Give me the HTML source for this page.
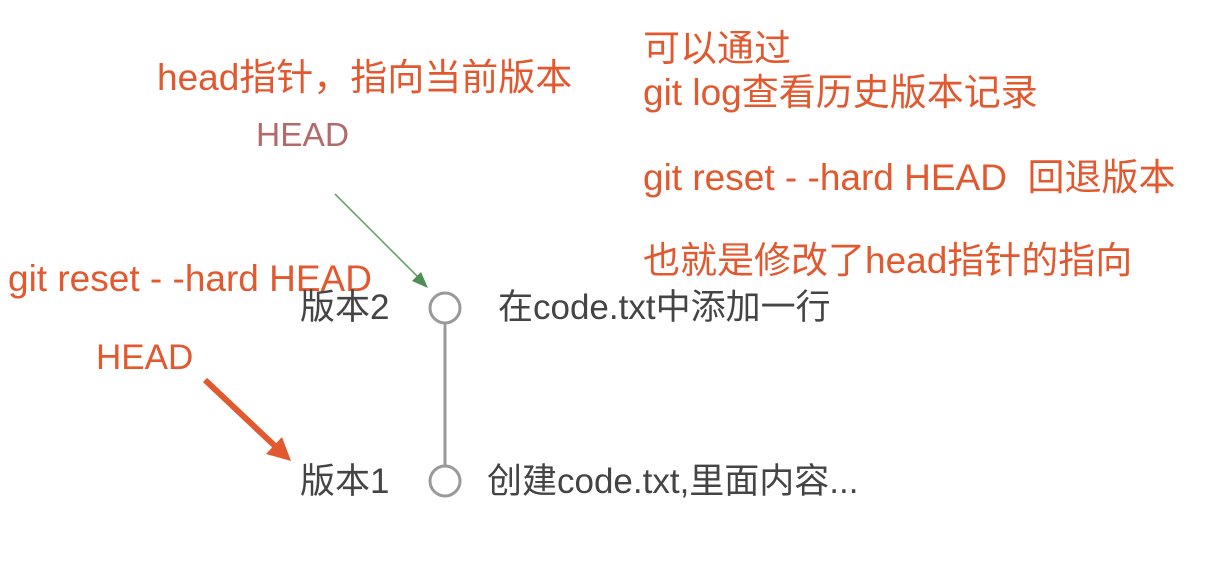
<!DOCTYPE html>
<html><head><meta charset="utf-8"><style>
body{margin:0;width:1206px;height:564px;background:#fff;position:relative;overflow:hidden;font-family:"Liberation Sans","Noto Sans CJK SC",sans-serif}
.t{position:absolute;white-space:nowrap;line-height:1}
.o{color:#e2582f;font-size:37px}
.g{color:#444;font-size:35px}
</style></head><body>
<div class="t o" style="left:157px;top:59px">head指针，指向当前版本</div>
<div class="t" style="left:256px;top:119px;font-size:33.5px;color:#b46a6a">HEAD</div>
<div class="t o" style="left:643px;top:30px">可以通过</div>
<div class="t o" style="left:643px;top:74px">git log查看历史版本记录</div>
<div class="t o" style="left:643px;top:159px">git reset - -hard HEAD&nbsp; 回退版本</div>
<div class="t o" style="left:643px;top:242px">也就是修改了head指针的指向</div>
<div class="t o" style="left:8px;top:260px">git reset - -hard HEAD</div>
<div class="t o" style="left:96px;top:340px;font-size:35px">HEAD</div>
<div class="t g" style="left:300px;top:290px">版本2</div>
<div class="t g" style="left:498px;top:290px">在code.txt中添加一行</div>
<div class="t g" style="left:300px;top:464px">版本1</div>
<div class="t g" style="left:487px;top:464px">创建code.txt,里面内容...</div>
<svg width="1206" height="564" style="position:absolute;left:0;top:0">
<line x1="445" y1="323" x2="445" y2="466" stroke="#999" stroke-width="3"/>
<circle cx="445" cy="308" r="15" fill="none" stroke="#999" stroke-width="3"/>
<circle cx="445" cy="481" r="15" fill="none" stroke="#999" stroke-width="3"/>
<line x1="335" y1="194" x2="420" y2="279" stroke="#5a9a5e" stroke-width="1.5"/>
<polygon points="428,288 412,281 421,272" fill="#4f8f55"/>
<line x1="205" y1="380" x2="275" y2="446" stroke="#e2582f" stroke-width="6"/>
<polygon points="291,461 266,454 282,437" fill="#e2582f"/>
</svg>
</body></html>
